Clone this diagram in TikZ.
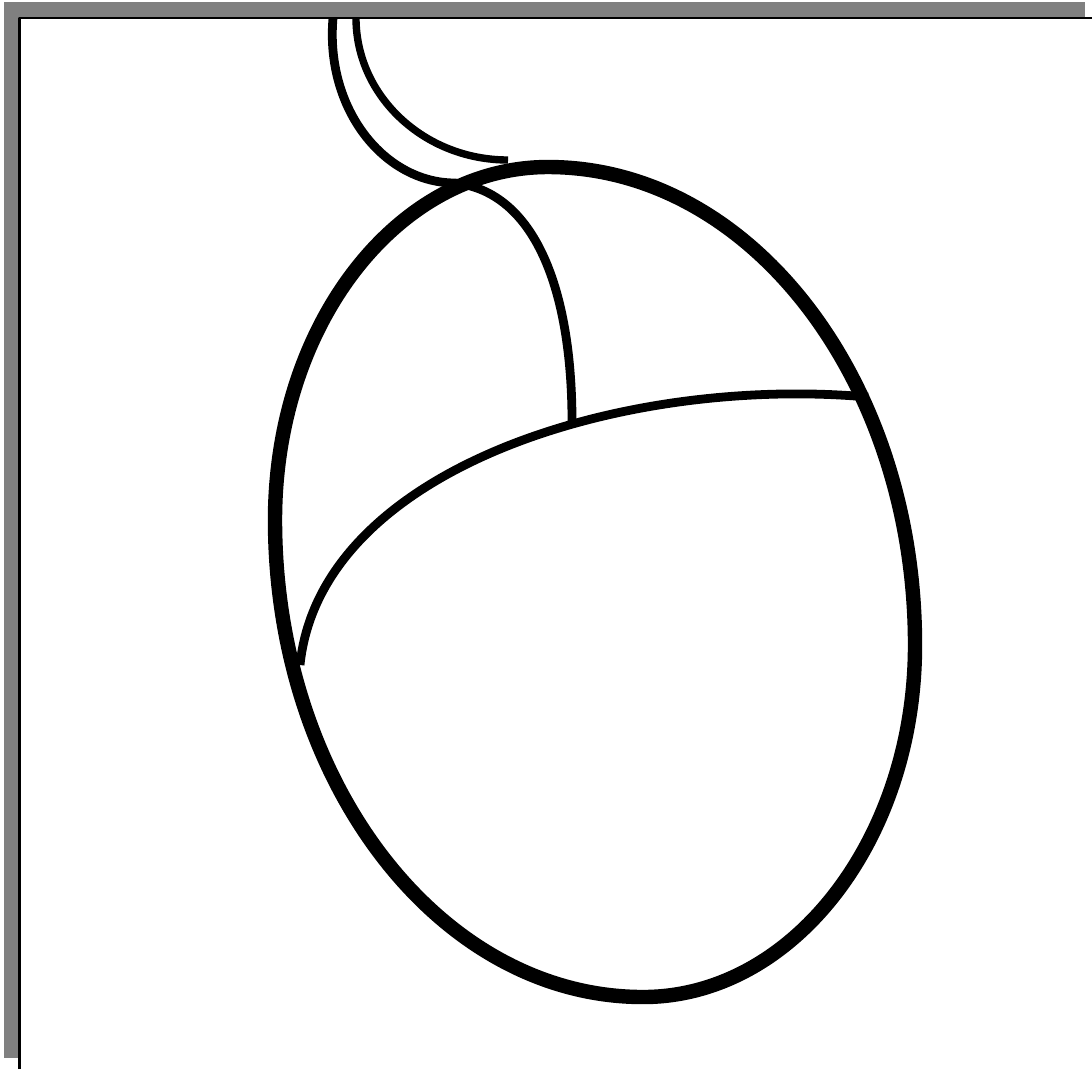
\documentclass[tikz,border=0pt]{standalone}
\usepackage{tikz}
\tikzset{
  bodyline/.style={line width=4.1pt},
  partline/.style={line width=2.5pt},
  cordline/.style={line width=2.1pt},
  frameband/.style={fill=gray},
  frameline/.style={line width=0.6pt},
  every picture/.style={line cap=butt, line join=round}
}

\begin{document}
\begin{tikzpicture}[x=0.01cm, y=-0.01cm]
  \useasboundingbox (0,0) rectangle (1092,1069);
  % mouse body
  \coordinate (top) at (548,167);
  \coordinate (rgt) at (915,645);
  \coordinate (bot) at (643,997);
  \coordinate (lft) at (275,520);
  \draw[bodyline] (top) .. controls (751,167) and (915,381) .. (rgt)
    .. controls (915,839) and (793,997) .. (bot)
    .. controls (440,997) and (275,783) .. (lft)
    .. controls (275,325) and (397,167) .. cycle;
  % buttons
  \coordinate (bl) at (300,665);
  \coordinate (br) at (868,397);
  \draw[partline] (bl) .. controls (320,470) and (620,375) .. (br);
  \coordinate (c1) at (333,18);
  \coordinate (knot) at (455,183);
  \coordinate (mid) at (572,422);
  \draw[partline] (c1) .. controls (325,110) and (385,183) .. (knot)
    .. controls (535,192) and (572,290) .. (mid);
  % cord
  \coordinate (c2) at (356,18);
  \coordinate (cend) at (508,160);
  \draw[cordline] (c2) .. controls (356,96) and (424,160) .. (cend);
  % frame
  \fill[frameband] (4,2) rectangle (1085,17);
  \fill[frameband] (4,2) rectangle (19,1058);
  \draw[frameline] (19.5,1069) -- (19.5,18) -- (1092,18);
\end{tikzpicture}
\end{document}
